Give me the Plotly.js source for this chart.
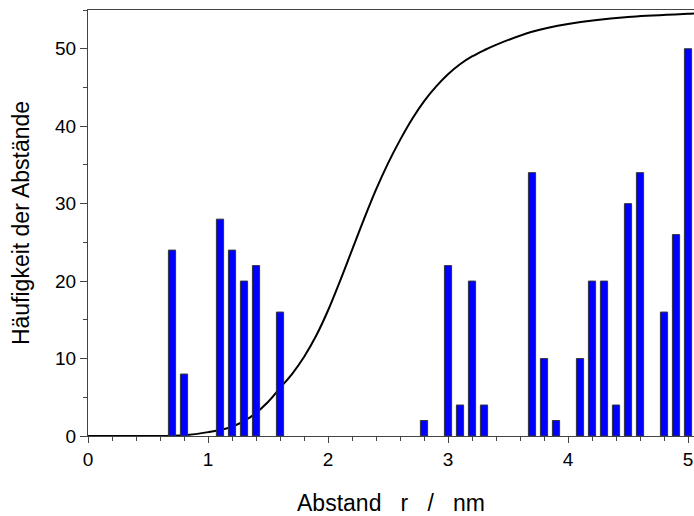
<!DOCTYPE html>
<html>
<head>
<meta charset="utf-8">
<script src="https://cdn.plot.ly/plotly-3.0.1.min.js"></script>
<style>html,body{margin:0;padding:0;background:#fff;}#chart{width:694px;height:516px;}</style>
</head>
<body>
<div id="chart"></div>
<script>
// Histogram of distances
const barX = [0.7, 0.8, 1.1, 1.2, 1.3, 1.4, 1.6, 2.8, 3.0, 3.1, 3.2, 3.3, 3.7, 3.8, 3.9, 4.1, 4.2, 4.3, 4.4, 4.5, 4.6, 4.8, 4.9, 5.0];
const barY = [24, 8, 28, 24, 20, 22, 16, 2, 22, 4, 20, 4, 34, 10, 2, 10, 20, 20, 4, 30, 34, 16, 26, 50];

// Cumulative curve
const curveX = [0, 0.5, 0.8, 1.0, 1.2, 1.35, 1.5, 1.6, 1.7, 1.8, 1.9, 2.0, 2.1, 2.2, 2.3, 2.4, 2.5, 2.6, 2.7, 2.8, 2.9, 3.0, 3.1, 3.2, 3.3, 3.4, 3.7, 4.0, 4.5, 5.0, 5.05];
const curveY = [0, 0, 0.1, 0.5, 1.2, 2.4, 4.4, 6.2, 8.0, 10.2, 12.9, 16.2, 20.0, 24.0, 28.0, 31.8, 35.2, 38.2, 40.9, 43.2, 45.1, 46.7, 48.0, 49.0, 49.8, 50.5, 52.2, 53.2, 54.1, 54.5, 54.55];

const xTitle = "Abstand\u00a0\u00a0 r\u00a0\u00a0 /\u00a0\u00a0 nm";
const yTitle = "Häufigkeit der Abstände";

const font = "Liberation Sans, Arial, sans-serif";
const xRange = [0, 5.05];
const yRange = [0, 55];

const traces = [
  {
    type: 'scatter', mode: 'lines', x: curveX, y: curveY,
    line: {color: '#000', width: 2, shape: 'spline', smoothing: 1},
    xaxis: 'x', yaxis: 'y', hoverinfo: 'skip'
  },
  {
    type: 'bar', x: barX, y: barY, width: 0.06,
    marker: {color: '#0000ff', line: {color: '#333', width: 1}},
    xaxis: 'x2', yaxis: 'y2'
  }
];

const layout = {
  width: 694, height: 516,
  margin: {l: 88, r: 0, t: 10, b: 80},
  paper_bgcolor: '#fff', plot_bgcolor: '#fff',
  showlegend: false,
  font: {family: font, color: '#000', size: 19},
  xaxis: {
    range: xRange, dtick: 1, tick0: 0,
    ticks: 'outside', ticklen: 6, tickcolor: '#444', tickwidth: 1,
    showline: true, linecolor: '#444', linewidth: 1, mirror: true,
    showgrid: false, zeroline: false,
    tickfont: {family: font, size: 19, color: '#000'},
    minor: {dtick: 0.2, ticks: 'outside', ticklen: 4, tickcolor: '#444', showgrid: false},
    title: {text: xTitle, font: {family: font, size: 23, color: '#000'}, standoff: 27}
  },
  yaxis: {
    range: yRange, dtick: 10, tick0: 0,
    ticks: 'outside', ticklen: 7, tickcolor: '#444', tickwidth: 1,
    showline: true, linecolor: '#444', linewidth: 1, mirror: true,
    showgrid: false, zeroline: false,
    tickfont: {family: font, size: 19, color: '#000'},
    minor: {dtick: 5, ticks: 'outside', ticklen: 4, tickcolor: '#444', showgrid: false},
    title: {text: yTitle, font: {family: font, size: 23, color: '#000'}, standoff: 19}
  },
  xaxis2: {range: xRange, overlaying: 'x', visible: false, anchor: 'y2'},
  yaxis2: {range: yRange, overlaying: 'y', visible: false, anchor: 'x2'}
};

Plotly.newPlot('chart', traces, layout, {staticPlot: true, displayModeBar: false});
</script>
</body>
</html>
